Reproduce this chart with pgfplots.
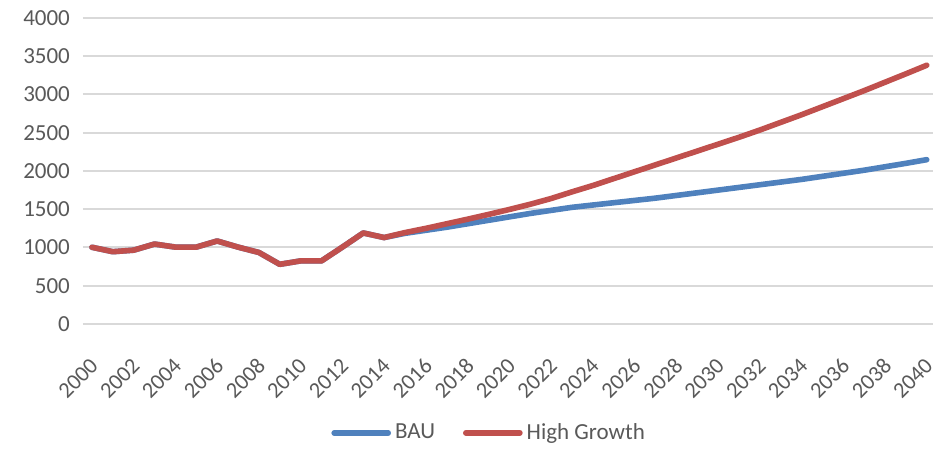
\documentclass[border=0pt]{standalone}
\usepackage{pgfplots}
\pgfplotsset{compat=1.18}
\usepackage{fontspec}
\setmainfont{Carlito}
\definecolor{bau}{HTML}{4F81BD}
\definecolor{hg}{HTML}{C0504D}
\definecolor{txt}{HTML}{595959}
\definecolor{gridc}{HTML}{D9D9D9}
\begin{document}
\begin{tikzpicture}
\begin{axis}[
  scale only axis,
  width=425pt, height=153pt,
  xmin=1999.57, xmax=2040.3,
  ymin=0, ymax=4000,
  axis line style={draw=none},
  ymajorgrids, xmajorgrids=false,
  grid style={draw=gridc, line width=1pt},
  major tick length=0pt,
  ytick={0,500,...,4000},
  xtick={2000,2002,...,2040},
  /pgf/number format/assume math mode=true,
  /pgf/number format/set thousands separator={},
  tick label style={font=\fontsize{11.5}{14}\selectfont, text=txt},
  yticklabel style={anchor=east, xshift=-3pt},
  xticklabel style={font=\fontsize{11.2}{13}\selectfont, xshift=-1.5pt, yshift=-11.5pt, rotate=45, anchor=north east},
  clip=false,
  legend style={at={(0.479,-0.356)}, anchor=center, draw=none, fill=none,
    font=\fontsize{11.5}{14}\selectfont, text=txt, legend columns=2,
    /tikz/every even column/.append style={column sep=12pt}},
  legend image code/.code={\draw[#1, line cap=round] (0cm,0cm) -- (0.95cm,0cm);},
]
\coordinate (bl) at (rel axis cs:-0.0976,-0.4085);
\coordinate (tr) at (rel axis cs:1.0,1.0588);
\addplot[bau, line width=2.8pt, line join=round, line cap=round] coordinates {
(2000,1003)(2001,945)(2002,965)(2003,1045)(2004,1005)(2005,1005)(2006,1085)(2007,1005)(2008,935)(2009,780)(2010,825)(2011,825)(2012,1005)(2013,1190)(2014,1130)
(2015,1185)(2016,1225)(2017,1265)(2018,1310)(2019,1355)(2020,1400)(2021,1445)(2022,1485)(2023,1525)(2024,1555)(2025,1585)(2026,1615)(2027,1645)(2028,1680)(2029,1715)(2030,1750)(2031,1785)(2032,1820)(2033,1855)(2034,1890)(2035,1930)(2036,1970)(2037,2010)(2038,2055)(2039,2100)(2040,2148)};
\addlegendentry{BAU}
\addplot[hg, line width=2.8pt, line join=round, line cap=round] coordinates {
(2000,1003)(2001,945)(2002,965)(2003,1045)(2004,1005)(2005,1005)(2006,1085)(2007,1005)(2008,935)(2009,780)(2010,825)(2011,825)(2012,1005)(2013,1190)(2014,1130)
(2015,1195)(2016,1250)(2017,1310)(2018,1370)(2019,1432)(2020,1497)(2021,1565)(2022,1640)(2023,1727)(2024,1810)(2025,1900)(2026,1990)(2027,2080)(2028,2170)(2029,2260)(2030,2350)(2031,2440)(2032,2535)(2033,2635)(2034,2735)(2035,2840)(2036,2945)(2037,3050)(2038,3160)(2039,3270)(2040,3382)};
\addlegendentry{High Growth}
\end{axis}
\pgfresetboundingbox
\path[use as bounding box] (bl) rectangle (tr);
\end{tikzpicture}
\end{document}
